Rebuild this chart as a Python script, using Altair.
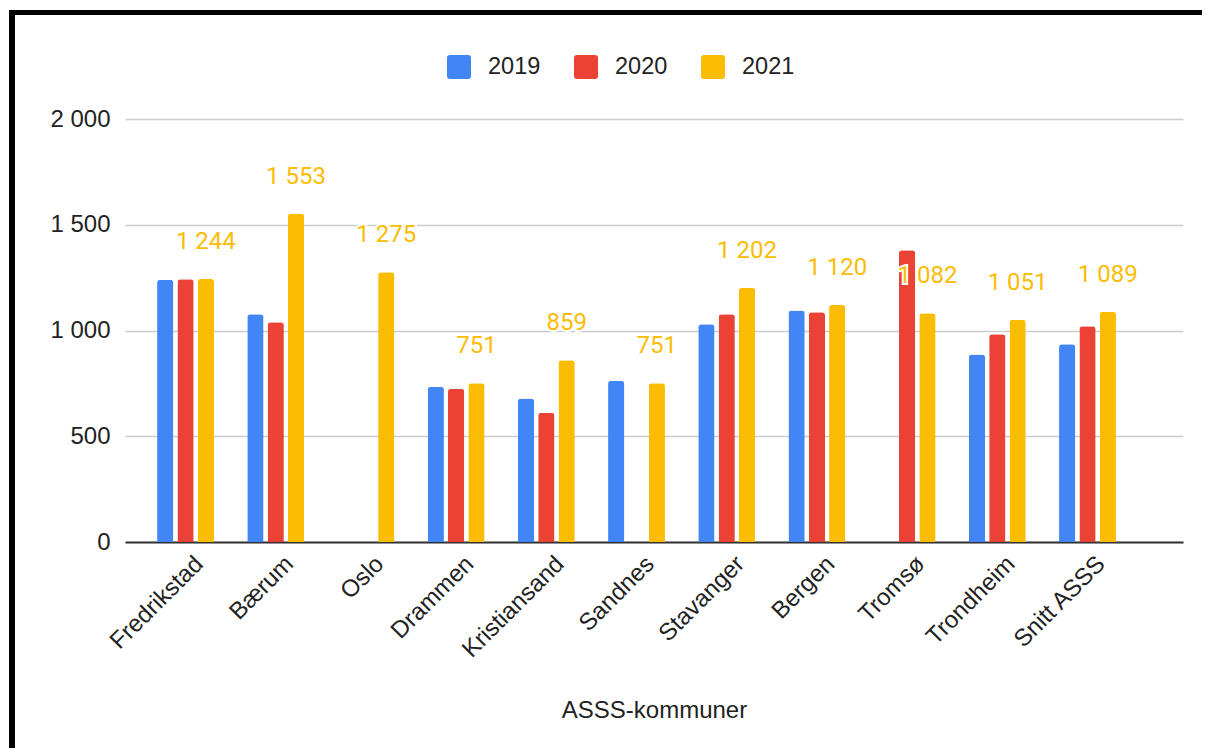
import altair as alt
import pandas as pd

kommuner = ["Fredrikstad", "Bærum", "Oslo", "Drammen", "Kristiansand", "Sandnes",
            "Stavanger", "Bergen", "Tromsø", "Trondheim", "Snitt ASSS"]
years = ["2019", "2020", "2021"]
v2019 = [1240, 1077, None, 734, 678, 763, 1029, 1095, None, 887, 935]
v2020 = [1242, 1039, None, 725, 611, None, 1077, 1086, 1379, 982, 1020]
v2021 = [1244, 1553, 1275, 751, 859, 751, 1202, 1120, 1082, 1051, 1089]
colors = ["#4285F4", "#EA4335", "#FBBC04"]
y_ticks = [0, 500, 1000, 1500, 2000]

rows = []
for yr, vals in zip(years, [v2019, v2020, v2021]):
    for k, v in zip(kommuner, vals):
        if v is not None:
            rows.append({"kommune": k, "year": yr, "value": v})
df = pd.DataFrame(rows)

W, H = 1058, 423

x_enc = alt.X("kommune:N", sort=kommuner,
              scale=alt.Scale(paddingInner=0.324, paddingOuter=0.527, align=0.316),
              axis=alt.Axis(title="ASSS-kommuner", labelAngle=-45, labelAlign="right",
                            labelBaseline="middle", labelPadding=18, labelOffset=14,
                            ticks=False, domainColor="#333333", domainWidth=2,
                            labelFontSize=24, labelFont="Liberation Sans", labelColor="#222222",
                            titleFontSize=24, titleFont="Liberation Sans", titleFontWeight="normal",
                            titleColor="#222222", titlePadding=37, grid=False))
xo_enc = alt.XOffset("year:N", sort=years,
                     scale=alt.Scale(paddingInner=0.2, paddingOuter=0.1))
y_enc = alt.Y("value:Q", scale=alt.Scale(domain=[0, 2000], nice=False),
              axis=alt.Axis(title=None, values=y_ticks, domain=False, ticks=False,
                            labelPadding=15, labelFontSize=24, labelFont="Liberation Sans",
                            labelColor="#222222", gridColor="#cccccc", gridWidth=1.3,
                            labelExpr="replace(format(datum.value, ','), ',', ' ')"))

legend_path = ("M-0.75,-1 H0.75 Q1,-1 1,-0.75 V0.75 Q1,1 0.75,1 H-0.75 "
               "Q-1,1 -1,0.75 V-0.75 Q-1,-1 -0.75,-1 Z")

bars = alt.Chart(df).mark_bar(cornerRadiusTopLeft=3, cornerRadiusTopRight=3).encode(
    x=x_enc, xOffset=xo_enc, y=y_enc,
    color=alt.Color("year:N", sort=years, scale=alt.Scale(domain=years, range=colors),
                    legend=alt.Legend(title=None, orient="none", direction="horizontal",
                                      legendX=322, legendY=-64, symbolType=legend_path,
                                      symbolSize=576, symbolStrokeWidth=0, symbolOpacity=1,
                                      labelFontSize=23.5, labelFont="Liberation Sans",
                                      labelColor="#222222", labelOffset=17, columnPadding=33))
)

lab_df = df[df["year"] == "2021"]
text_base = alt.Chart(lab_df).transform_calculate(
    lab="replace(format(datum.value, ','), ',', ' ')"
)
halo = text_base.mark_text(font="Roboto", fontSize=24, baseline="alphabetic", dy=-30,
                           color="white", stroke="white", strokeWidth=4).encode(
    x=alt.X("kommune:N", sort=kommuner), xOffset=alt.XOffset("year:N", sort=years),
    y="value:Q", text="lab:N")
labels = text_base.mark_text(font="Roboto", fontSize=24, baseline="alphabetic", dy=-30,
                             color="#FBBC04").encode(
    x=alt.X("kommune:N", sort=kommuner), xOffset=alt.XOffset("year:N", sort=years),
    y="value:Q", text="lab:N")

frame_left = alt.Chart(pd.DataFrame({"a": [0]})).mark_rule(color="black", strokeWidth=6).encode(
    x=alt.value(-113), y=alt.value(-109), y2=alt.value(640))
frame_top = alt.Chart(pd.DataFrame({"a": [0]})).mark_rule(color="black", strokeWidth=5).encode(
    x=alt.value(-116), x2=alt.value(1090), y=alt.value(-106.5))

chart = alt.layer(bars, halo, labels, frame_left, frame_top).properties(
    width=W, height=H,
    autosize=alt.AutoSizeParams(type="none"),
    padding={"left": 117, "top": 111, "right": 19, "bottom": 206},
    background="white",
).configure_view(stroke=None)

chart.save("out.html", embed_options={"renderer": "svg", "actions": False})
